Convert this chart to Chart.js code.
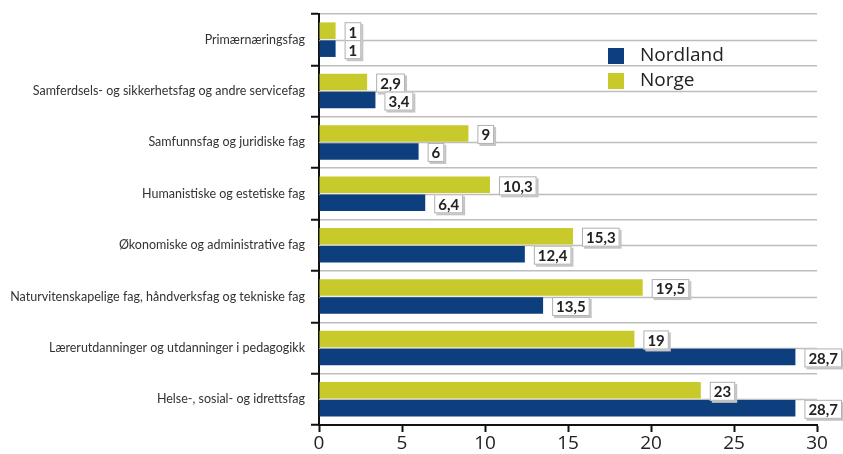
<!DOCTYPE html>
<html>
<head>
<meta charset="utf-8">
<script src="https://cdn.jsdelivr.net/npm/chart.js@4.4.1/dist/chart.umd.min.js"></script>
<style>
  html, body { margin: 0; padding: 0; background: #fff; }
  #wrap { width: 843px; height: 454px; }
</style>
</head>
<body>
<div id="wrap"><canvas id="chart" width="843" height="454"></canvas></div>
<script>
// categories top to bottom
var categories = [
    'Primærnæringsfag',
    'Samferdsels- og sikkerhetsfag og andre servicefag',
    'Samfunnsfag og juridiske fag',
    'Humanistiske og estetiske fag',
    'Økonomiske og administrative fag',
    'Naturvitenskapelige fag, håndverksfag og tekniske fag',
    'Lærerutdanninger og utdanninger i pedagogikk',
    'Helse-, sosial- og idrettsfag'
];
var norge = [1, 2.9, 9, 10.3, 15.3, 19.5, 19, 23];
var nordland = [1, 3.4, 6, 6.4, 12.4, 13.5, 28.7, 28.7];

var BLUE = '#0d3f7f';
var YELLOW = '#c8ca2b';
var GRID = '#bdbdbd';
var INK = '#222';

function fmt(v) {
    return String(v).replace('.', ',');
}

// gray line through the middle of each category, between the two bars
var midLines = {
    id: 'midLines',
    beforeDatasetsDraw: function (chart) {
        var ctx = chart.ctx, area = chart.chartArea, y = chart.scales.y;
        ctx.save();
        ctx.strokeStyle = GRID;
        ctx.lineWidth = 1.5;
        for (var i = 0; i < categories.length; i++) {
            var py = Math.round(y.getPixelForValue(i)) + 0.5;
            ctx.beginPath();
            ctx.moveTo(area.left, py);
            ctx.lineTo(area.right, py);
            ctx.stroke();
        }
        ctx.restore();
    }
};

// boxed value labels to the right of each bar
var valueBoxes = {
    id: 'valueBoxes',
    afterDatasetsDraw: function (chart) {
        var ctx = chart.ctx;
        ctx.save();
        ctx.font = 'bold 15px Lato';
        ctx.textBaseline = 'middle';
        ctx.textAlign = 'left';
        chart.data.datasets.forEach(function (ds, di) {
            chart.getDatasetMeta(di).data.forEach(function (bar, i) {
                var txt = fmt(ds.data[i]);
                var w = ctx.measureText(txt).width + 8;
                var h = 19;
                var x = bar.x + 9;
                var y = bar.y - h / 2 + 1;
                ctx.fillStyle = '#c4c4c4';
                ctx.fillRect(x + 2, y + 2, w, h);
                ctx.fillStyle = '#fff';
                ctx.fillRect(x, y, w, h);
                ctx.strokeStyle = '#b0b0b0';
                ctx.lineWidth = 1;
                ctx.strokeRect(x + 0.5, y + 0.5, w - 1, h - 1);
                ctx.fillStyle = INK;
                ctx.fillText(txt, x + 4, y + h / 2 + 1);
            });
        });
        ctx.restore();
    }
};

// legend inside the plot, Nordland first
var boxLegend = {
    id: 'boxLegend',
    afterDraw: function (chart) {
        var ctx = chart.ctx;
        var items = chart.data.datasets.slice().reverse();
        ctx.save();
        ctx.font = '19px "Open Sans"';
        ctx.textBaseline = 'middle';
        items.forEach(function (ds, i) {
            var cy = 56 + i * 25;
            ctx.fillStyle = ds.backgroundColor;
            ctx.fillRect(608, cy - 8, 16, 16);
            ctx.fillStyle = INK;
            ctx.fillText(ds.label, 640, cy);
        });
        ctx.restore();
    }
};

var chart = new Chart(document.getElementById('chart').getContext('2d'), {
    type: 'bar',
    data: {
        labels: categories,
        datasets: [
            { label: 'Norge', data: norge, backgroundColor: YELLOW },
            { label: 'Nordland', data: nordland, backgroundColor: BLUE }
        ]
    },
    options: {
        indexAxis: 'y',
        responsive: false,
        animation: false,
        layout: { padding: { top: 14, right: 26, left: 0, bottom: 0 } },
        datasets: { bar: { categoryPercentage: 0.7, barPercentage: 0.92 } },
        plugins: {
            legend: { display: false },
            tooltip: { enabled: false }
        },
        scales: {
            x: {
                min: 0,
                max: 30,
                ticks: { stepSize: 5, color: INK, font: { size: 19, family: 'Open Sans' }, padding: 0 },
                grid: { drawOnChartArea: false, drawTicks: true, tickLength: 7, tickColor: '#111', tickWidth: 2 },
                border: { color: '#111', width: 2 },
                afterFit: function (scale) { scale.height = 29; }
            },
            y: {
                offset: true,
                ticks: { color: '#333', font: { size: 12.5, family: 'Lato' }, padding: 6 },
                grid: { offset: true, color: GRID, lineWidth: 1.5, tickLength: 8, tickColor: '#111', tickWidth: 2 },
                border: { color: '#111', width: 2 },
                afterFit: function (scale) { scale.width = 319; }
            }
        }
    },
    plugins: [midLines, valueBoxes, boxLegend]
});
</script>
</body>
</html>
